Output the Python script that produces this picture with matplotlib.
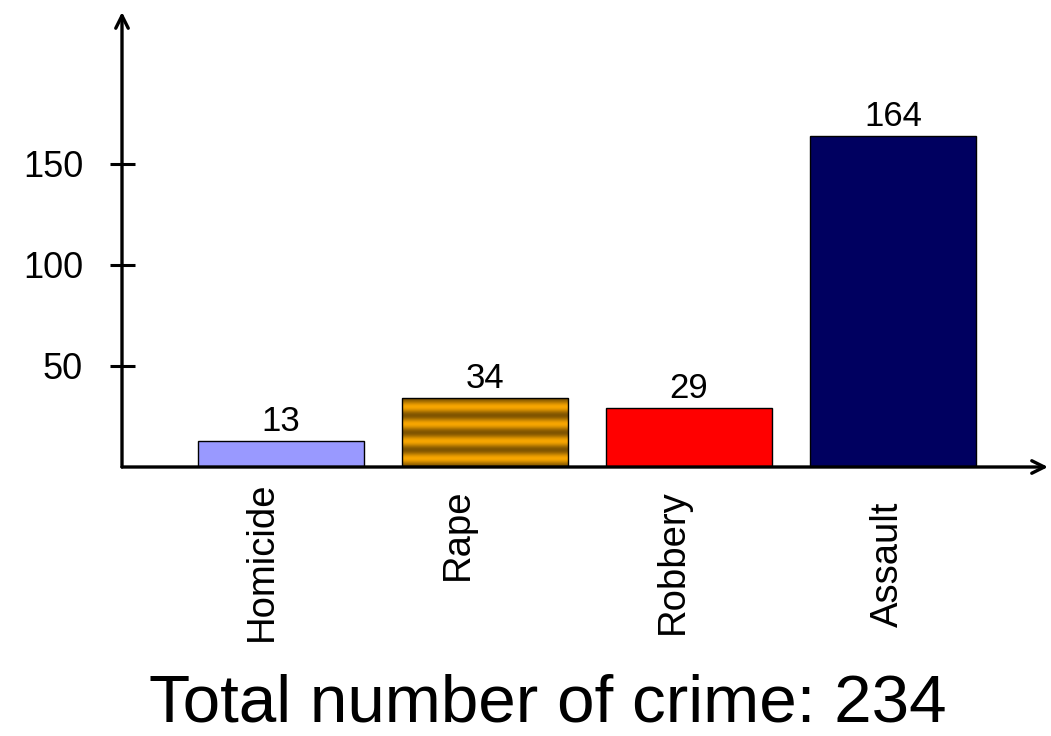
import numpy as np
import matplotlib
matplotlib.use("Agg")
import matplotlib.pyplot as plt
import matplotlib.transforms as mtransforms

plt.rcParams['font.family'] = ['Liberation Sans', 'DejaVu Sans']

categories = ["Homicide", "Rape", "Robbery", "Assault"]
counts = [13, 34, 29, 164]
bar_colors = ["#9999FF", "#F0A000", "#FF0000", "#000060"]
yticks = [50, 100, 150]
total = 234

fig = plt.figure(figsize=(10.51, 7.36), dpi=100)
ax = fig.add_axes([122 / 1051, (736 - 467) / 736, (1048 - 122) / 1051, (467 - 12) / 736])
XLIM = (-0.7794, 3.7598)
YLIM = (0, 225.2)

x = np.arange(len(categories))
bars = ax.bar(x, counts, width=0.814, color=bar_colors, edgecolor="black",
              linewidth=1.0, zorder=2)

# horizontal banded fill for the second bar
rb = bars[1]
rb.set_facecolor("none")
x0, w, h = rb.get_x(), rb.get_width(), rb.get_height()
t = np.linspace(0, 1, 400)[:, None]
band = 0.5 - 0.5 * np.cos(2 * np.pi * 4 * t)
light = np.array([0.97, 0.65, 0.0])
dark = np.array([0.50, 0.33, 0.0])
img = light * band[..., None] + dark * (1 - band[..., None])
img = np.repeat(img, 2, axis=1)
im = ax.imshow(img, extent=[x0, x0 + w, h, 0], aspect="auto",
               interpolation="bilinear", zorder=1.5, origin="upper")
im.set_clip_path(rb)
ax.set_xlim(*XLIM)
ax.set_ylim(*YLIM)

# value labels above each bar
for xi, v in zip(x, counts):
    ax.text(xi, v + 1.5, str(v), ha="center", va="bottom", fontsize=25, zorder=3)

# rotated category names under the axis (small per-label nudges)
trans = mtransforms.blended_transform_factory(ax.transData, ax.transAxes)
label_dx = [-0.093, -0.132, -0.078, -0.025]
label_y = [-0.208, -0.147, -0.209, -0.214]
for xi, name, dx, ly in zip(x, categories, label_dx, label_y):
    ax.text(xi + dx, ly, name, rotation=90, ha="center", va="center",
            fontsize=27.5, transform=trans)

for s in ax.spines.values():
    s.set_visible(False)

ax.set_xticks([])
ax.set_yticks(yticks)
ax.set_yticklabels([str(v) for v in yticks])
ax.tick_params(axis="y", direction="inout", length=18, width=2.2,
               labelsize=26, pad=19)

# axes drawn as arrows
arrow = dict(arrowstyle="->,head_length=0.9,head_width=0.45", lw=2.4,
             color="black", shrinkA=0, shrinkB=0)
ax.annotate("", xy=(1, 0), xytext=(0, 0), xycoords="axes fraction",
            arrowprops=arrow, annotation_clip=False, zorder=4)
ax.annotate("", xy=(0, 1), xytext=(0, 0), xycoords="axes fraction",
            arrowprops=arrow, annotation_clip=False, zorder=4)

fig.text(548 / 1051, 1 / 736, f"Total number of crime: {total}",
         ha="center", va="bottom", fontsize=48.5)

fig.savefig("out.png", dpi=100)
